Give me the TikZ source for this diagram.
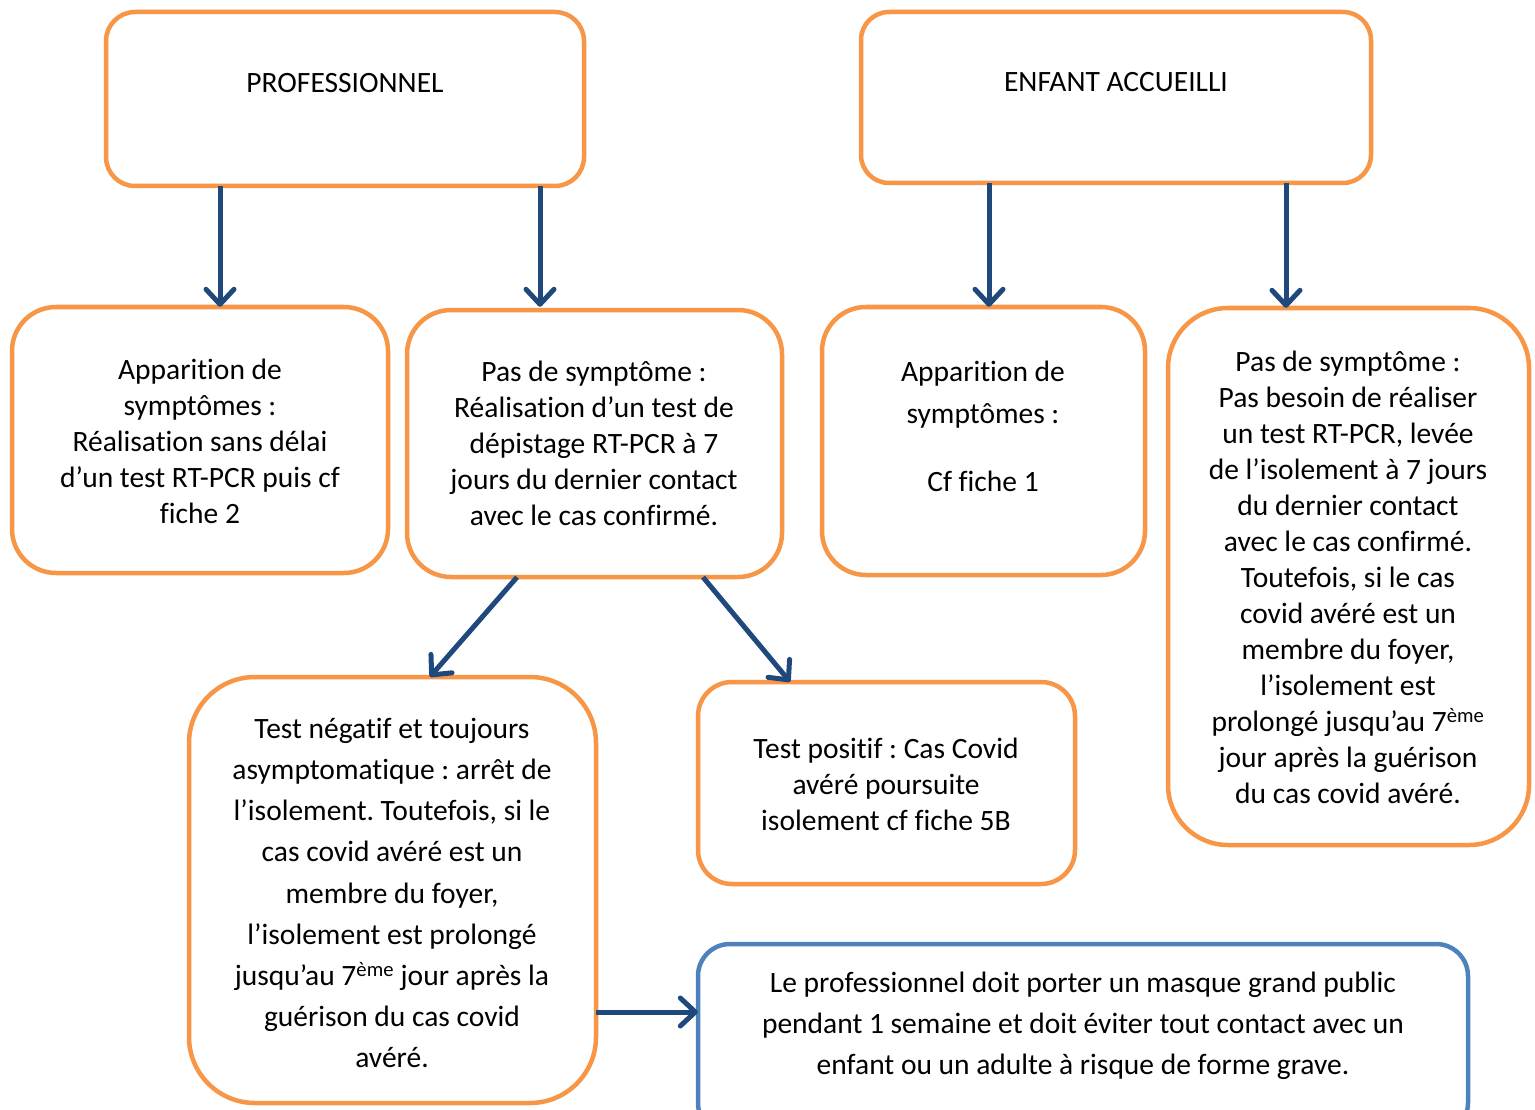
\documentclass[tikz,border=0pt]{standalone}
\usepackage{fontspec}
\setmainfont{Carlito}[Ligatures=NoCommon]
\usetikzlibrary{arrows.meta}
\definecolor{orangeb}{RGB}{247,150,70}
\definecolor{blueb}{RGB}{79,129,189}
\definecolor{arrowc}{RGB}{31,73,125}
\tikzset{
  obox/.style={draw=orangeb, line width=4.5pt, fill=white},
  bbox/.style={draw=blueb, line width=4.5pt, fill=white},
  txt/.style={align=center, font=\fontsize{29.5}{36}\selectfont, inner sep=0pt},
  arr/.style={draw=arrowc, line width=5pt, -{Straight Barb[length=15pt, width=28pt, line width=5pt, round]}},
}
\frenchspacing
\begin{document}
\begin{tikzpicture}[x=1pt,y=-1pt]
\useasboundingbox[fill=white] (0,0) rectangle (1535,1110);
% boxes
\draw[obox, rounded corners=29pt] (106,12) rectangle (584,186);
\node (prof) at (345,99) [minimum width=478pt, minimum height=174pt] {};
\draw[obox, rounded corners=28pt] (861,12) rectangle (1371,183);
\node (enf) at (1116,97.5) [minimum width=510pt, minimum height=171pt] {};
\draw[obox, rounded corners=44pt] (12,307) rectangle (388,573);
\node (a) at (200,440) [minimum width=376pt, minimum height=266pt] {};
\draw[obox, rounded corners=44pt] (407,310) rectangle (782,577);
\node (b) at (594,443.5) [minimum width=375pt, minimum height=267pt] {};
\draw[obox, rounded corners=44pt] (822,307) rectangle (1145,575);
\node (c) at (983,441) [minimum width=323pt, minimum height=268pt] {};
\draw[obox, rounded corners=60pt] (1168,308) rectangle (1529,845);
\node (d) at (1348,576.5) [minimum width=361pt, minimum height=537pt] {};
\draw[obox, rounded corners=66pt] (189,677) rectangle (596,1103);
\node (e) at (392,890) [minimum width=407pt, minimum height=426pt] {};
\draw[obox, rounded corners=34pt] (698,682) rectangle (1075,884);
\node (f) at (886,783) [minimum width=377pt, minimum height=202pt] {};
\draw[bbox, rounded corners=32pt] (698,944) rectangle (1468,1135);
\node (g) at (1083,1039.5) [minimum width=770pt, minimum height=191pt] {};
% texts
\node[txt] (tprof) at (345,83) {PROFESSIONNEL};
\node[txt] (tenf) at (1116,82) {ENFANT ACCUEILLI};
\node[txt] (ta) at (200,441) {Apparition de\\symptômes :\\Réalisation sans délai\\d’un test RT-PCR puis cf\\fiche 2};
\node[txt] (tb) at (594,443.5) {Pas de symptôme :\\Réalisation d’un test de\\dépistage RT-PCR à 7\\jours du dernier contact\\avec le cas confirmé.};
\node[txt, font=\fontsize{29.5}{42}\selectfont] (tc) at (983,426) {Apparition de\\symptômes :\\[26pt]Cf fiche 1};
\node[txt] (td) at (1348,577.5) {Pas de symptôme :\\Pas besoin de réaliser\\un test RT-PCR, levée\\de l’isolement à 7 jours\\du dernier contact\\avec le cas confirmé.\\Toutefois, si le cas\\covid avéré est un\\membre du foyer,\\l’isolement est\\prolongé jusqu’au 7\textsuperscript{ème}\\jour après la guérison\\du cas covid avéré.};
\node[txt, font=\fontsize{29.5}{41.2}\selectfont] (te) at (392,893) {Test négatif et toujours\\asymptomatique : arrêt de\\l’isolement. Toutefois, si le\\cas covid avéré est un\\membre du foyer,\\l’isolement est prolongé\\jusqu’au 7\textsuperscript{ème} jour après la\\guérison du cas covid\\avéré.};
\node[txt] (tf) at (886,784) {Test positif : Cas Covid\\avéré poursuite\\isolement cf fiche 5B};
\node[txt, font=\fontsize{29.5}{41}\selectfont] (tg) at (1083,1026) {Le professionnel doit porter un masque grand public\\pendant 1 semaine et doit éviter tout contact avec un\\enfant ou un adulte à risque de forme grave.};
% arrow x positions
\coordinate (x1) at (220,0);
\coordinate (x2) at (540,0);
\coordinate (x3) at (989,0);
\coordinate (x4) at (1286,0);
\coordinate (x5) at (517,0);
\coordinate (x6) at (430,0);
\coordinate (x7) at (703,0);
\coordinate (x8) at (790,0);
\coordinate (y9) at (0,1012);
% arrows
\draw[arr] (prof.south -| x1) -- (a.north -| x1);
\draw[arr] (prof.south -| x2) -- (a.north -| x2);
\draw[arr] (enf.south -| x3) -- (c.north -| x3);
\draw[arr] (enf.south -| x4) -- (d.north -| x4);
\draw[arr] (b.south -| x5) -- (e.north -| x6);
\draw[arr] (b.south -| x7) -- (f.north -| x8);
\draw[arr] (e.east |- y9) -- (g.west |- y9);
\end{tikzpicture}
\end{document}
